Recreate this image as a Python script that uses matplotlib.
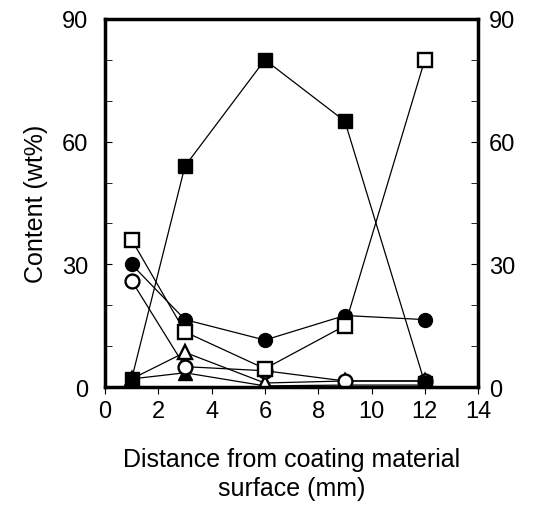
import numpy as np
import matplotlib.pyplot as plt

plt.rcParams['font.family'] = ['Liberation Sans', 'DejaVu Sans']

x = [1, 3, 6, 9, 12]
filled_sq = [2, 54, 80, 65, 1]
open_sq = [36, 13.5, 4.5, 15, 80]
filled_ci = [30, 16.5, 11.5, 17.5, 16.5]
open_ci = [26, 5, 4, 1.5, 1.5]
open_tri = [2, 8.5, 1, 1.5, 1.5]
filled_tri = [2, 3.5, 0.3, 0.5, 0.5]

fig = plt.figure(figsize=(5.33, 5.10), dpi=100)
ax = fig.add_axes([0.197, 0.239, 0.700, 0.722])

lw = 0.9
ax.plot(x, filled_tri, '-^', color='k', mfc='k', ms=10, lw=lw)
ax.plot(x, open_tri, '-^', color='k', mfc='white', ms=10, mew=1.7, lw=lw)
ax.plot(x, open_ci, '-o', color='k', mfc='white', ms=10, mew=1.7, lw=lw)
ax.plot(x, filled_ci, '-o', color='k', mfc='k', ms=10, lw=lw)
ax.plot(x, open_sq, '-s', color='k', mfc='white', ms=10, mew=1.7, lw=lw)
ax.plot(x, filled_sq, '-s', color='k', mfc='k', ms=10, lw=lw)

ax.set_xlim(0, 14)
ax.set_ylim(0, 90)
ax.set_xticks(np.arange(0, 15, 2))
ax.set_yticks([0, 30, 60, 90])
ax.set_yticks(np.arange(0, 91, 10), minor=True)
ax.tick_params(axis='x', direction='out', length=5, labelsize=17, pad=4)
ax.tick_params(axis='y', which='both', direction='in', length=5, labelsize=17, pad=12)
for s in ax.spines.values():
    s.set_linewidth(2.5)

ax2 = ax.twinx()
ax2.set_ylim(0, 90)
ax2.set_yticks([0, 30, 60, 90])
ax2.set_yticks(np.arange(0, 91, 10), minor=True)
ax2.tick_params(axis='y', which='both', direction='in', length=5, labelsize=17, pad=8)

ax.set_ylabel('Content (wt%)', fontsize=18, labelpad=10)
ax.set_xlabel('Distance from coating material\nsurface (mm)', fontsize=18, labelpad=18, linespacing=1.3)

fig.savefig('out.png', dpi=100)
